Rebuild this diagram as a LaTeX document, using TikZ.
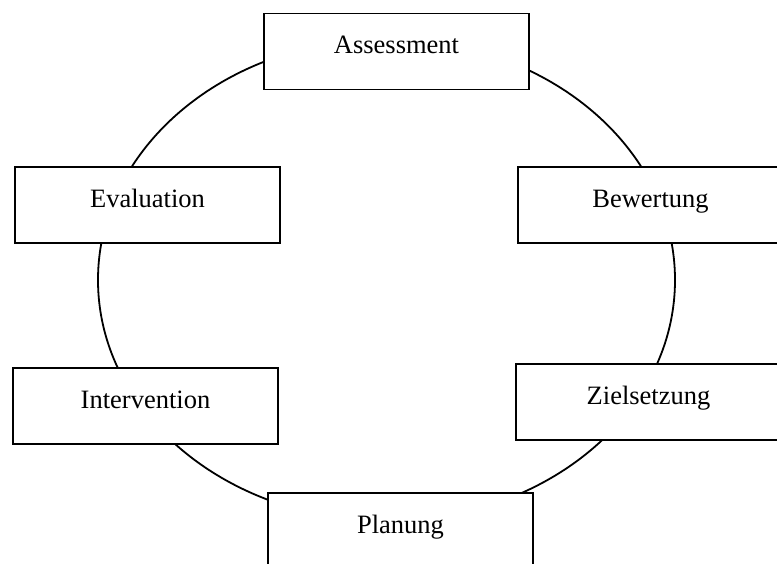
\documentclass[tikz,border=0pt]{standalone}
\usepackage{fontspec}
\setmainfont{Liberation Serif}
\begin{document}
\begin{tikzpicture}[x=1pt,y=-1pt,
  stagebox/.style={draw=black, line width=1.5pt, fill=white, rectangle,
    inner sep=0pt, minimum width=265pt, text height=40pt, text depth=36pt,
    font=\fontsize{26.5}{31}\selectfont},
  cycleline/.style={draw=black, line width=1.8pt}]
\useasboundingbox (0,0) rectangle (777,563);
\clip (0,0) rectangle (777,563);
\coordinate (ctr) at (386.5,280);
\draw[cycleline] (ctr) ellipse [x radius=288.5pt, y radius=241pt];
\node[stagebox] (assess) at (396.5,51.5) {Assessment};
\node[stagebox] (eval) at (147.5,205) {Evaluation};
\node[stagebox] (bew) at (650.5,205) {Bewertung};
\node[stagebox] (interv) at (145.5,406) {Intervention};
\node[stagebox] (ziel) at (648.5,402) {Zielsetzung};
\node[stagebox] (plan) at (400.5,531) {Planung};
\end{tikzpicture}
\end{document}
